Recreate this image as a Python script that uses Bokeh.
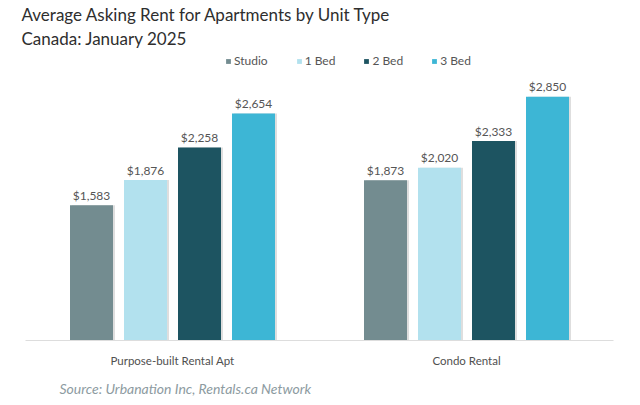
from bokeh.plotting import figure
from bokeh.models import ColumnDataSource, Legend, LegendItem, Title, FactorRange
from bokeh.transform import dodge
from bokeh.embed import file_html
from bokeh.resources import INLINE

title_line1 = "Average Asking Rent for Apartments by Unit Type"
title_line2 = "Canada: January 2025"
source_note = "Source: Urbanation Inc, Rentals.ca Network"
categories = ["Purpose-built Rental Apt", "Condo Rental"]
unit_types = ["Studio", "1 Bed", "2 Bed", "3 Bed"]
studio = [1583, 1873]
one_bed = [1876, 2020]
two_bed = [2258, 2333]
three_bed = [2654, 2850]
colors = ["#738c90", "#b2e1ee", "#1d5461", "#3db6d5"]

FONT = "Lato"
W, H = 640, 405
FRAME_W = 588
PX_PER_UNIT = FRAME_W / 2.0
Y_END = 3392

series = [studio, one_bed, two_bed, three_bed]
keys = ["studio", "one", "two", "three"]
data = dict(cat=categories)
for k, s in zip(keys, series):
    data[k] = s
    data[k + "_lbl"] = ["${:,}".format(v) for v in s]
src = ColumnDataSource(data)

p = figure(x_range=FactorRange(*categories), y_range=(0, Y_END),
           width=W, height=H, output_backend="svg", toolbar_location=None,
           title=None, y_axis_location=None,
           min_border_left=25, min_border_right=27, min_border_top=50, min_border_bottom=64)
p.outline_line_color = None
p.xgrid.grid_line_color = None
p.ygrid.grid_line_color = None
p.background_fill_color = "white"
p.border_fill_color = "white"

bar_w = 43 / PX_PER_UNIT
pitch = 54 / PX_PER_UNIT
shadow_dx = 2 / PX_PER_UNIT
items = []
for i, (k, name, c) in enumerate(zip(keys, unit_types, colors)):
    off = (i - 1.5) * pitch
    p.vbar(x=dodge("cat", off + shadow_dx, range=p.x_range), top=k, width=bar_w,
           source=src, fill_color="#000000", fill_alpha=0.13, line_color=None)
    r = p.vbar(x=dodge("cat", off, range=p.x_range), top=k, width=bar_w,
               source=src, fill_color=c, line_color=None)
    p.text(x=dodge("cat", off, range=p.x_range), y=k, text=k + "_lbl", source=src,
           text_align="center", text_baseline="alphabetic", y_offset=-10,
           text_font={"value": FONT}, text_font_size="12px", text_color="#555555")
    items.append(LegendItem(label=name, renderers=[r]))

legend = Legend(items=items, orientation="horizontal", location=(200, 272),
                glyph_width=6, glyph_height=6, label_height=6, label_standoff=3,
                spacing=28, padding=0, margin=0, border_line_color=None,
                background_fill_alpha=0, label_text_font=FONT,
                label_text_font_size="12px", label_text_color="#555555")
p.add_layout(legend, "center")

ax = p.xaxis[0]
ax.axis_line_color = "#dddddd"
ax.axis_line_width = 1
ax.major_tick_line_color = None
ax.minor_tick_line_color = None
ax.major_label_standoff = 7
ax.major_label_text_font = FONT
ax.major_label_text_font_size = "11.5px"
ax.major_label_text_color = "#505050"

title = Title(text=title_line1 + "\n" + title_line2, align="left", offset=-4, standoff=3,
              text_font=FONT, text_font_size="17px", text_font_style="normal",
              text_line_height=1.12, text_color="#2e2e2e")
p.add_layout(title, "above")

src_title = Title(text=source_note, align="left", offset=34, standoff=17,
                  text_font=FONT, text_font_size="14px", text_font_style="italic",
                  text_color="#8d9ba1")
p.add_layout(src_title, "below")

open("out.html", "w").write(file_html(p, INLINE))
